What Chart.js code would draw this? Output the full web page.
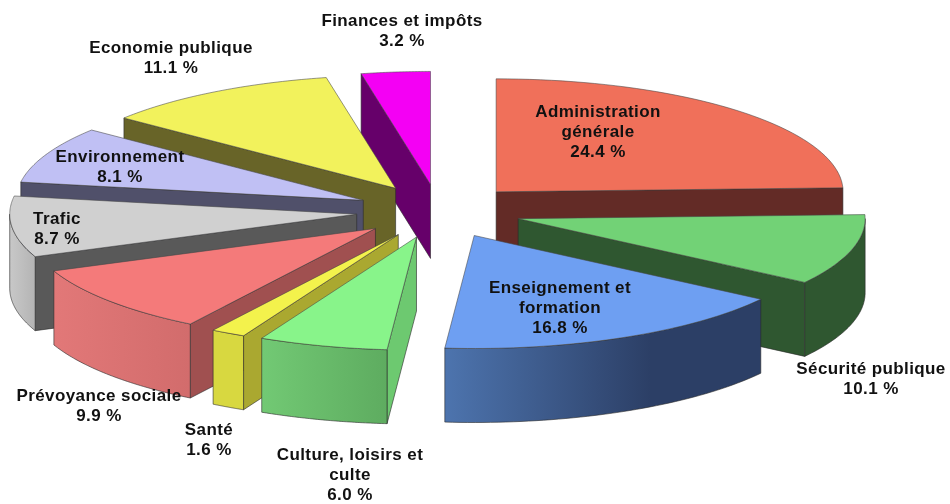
<!DOCTYPE html>
<html>
<head>
<meta charset="utf-8">
<style>html,body{margin:0;padding:0;background:#fff;overflow:hidden}#wrap{width:950px;height:504px;position:relative}</style>
<script src="https://cdn.jsdelivr.net/npm/chart.js@4"></script>
</head>
<body>
<div id="wrap"><canvas id="c" width="950" height="504"></canvas></div>
<script>
// ---- data
const categories = ["Administration générale","Sécurité publique","Enseignement et formation","Culture, loisirs et culte","Santé","Prévoyance sociale","Trafic","Environnement","Economie publique","Finances et impôts"];
const values = [24.4,10.1,16.8,6.0,1.6,9.9,8.7,8.1,11.1,3.2];
const labelLines = [["Administration","générale"],["Sécurité publique"],["Enseignement et","formation"],["Culture, loisirs et","culte"],["Santé"],["Prévoyance sociale"],["Trafic"],["Environnement"],["Economie publique"],["Finances et impôts"]];
// ---- styles
const topColors = ["#F0705A","#72D276","#6E9FF2","#88F48A","#F3F24C","#F47A7A","#D0D0D0","#C0C0F4","#F2F25C","#F400F4"];
const cutColors = ["#632B26","#2F5730","#2C3F66","#6DC970","#AAA830","#A05050","#595959","#50506A","#686428","#66006A"];
const wallFrom  = ["#632B26","#2F5730","#2C3F66","#5EAC60","#D8D840","#D26C6C","#B4B4B4","#50506A","#686428","#66006A"];
const wallTo    = ["#632B26","#2F5730","#4D74AE","#72C974","#D8D840","#E27878","#C8C8C8","#50506A","#686428","#66006A"];
const drawOrder = [9,8,7,6,5,4,3,0,1,2];
const labelPos  = [[598,112],[871,369],[560,288],[350,455],[209,430],[99,396],[57,219],[120,157],[171,48],[402,21]];
const view = {cx:438.8, cy:211.2, rx:347, ry:113, depth:74, explode:0.238, lineH:20};

const pie3d = {
  id:'pie3d',
  beforeDatasetsDraw(chart){
    const ctx = chart.ctx, arcs = chart.getDatasetMeta(0).data;
    const pt = (el,a,ex,dz)=>{
      const h=(el.startAngle+el.endAngle)/2;
      return [view.cx+(Math.cos(a)*ex.r+Math.cos(h)*view.explode)*view.rx,
              view.cy+(Math.sin(a)*ex.r+Math.sin(h)*view.explode)*view.ry+dz];
    };
    const poly=(pts,fill)=>{
      ctx.beginPath();
      pts.forEach((p,i)=>i?ctx.lineTo(p[0],p[1]):ctx.moveTo(p[0],p[1]));
      ctx.closePath();
      ctx.fillStyle=fill;ctx.fill();
      ctx.strokeStyle='rgba(40,40,40,0.75)';ctx.lineWidth=0.8;ctx.stroke();
    };
    drawOrder.forEach(i=>{
      const el=arcs[i], a0=el.startAngle, a1=el.endAngle, d=view.depth;
      const A=pt(el,0,{r:0},0), Ad=[A[0],A[1]+d], mid=pt(el,(a0+a1)/2,{r:0.6},0);
      // cut faces
      [a0,a1].forEach(a=>{
        const P=pt(el,a,{r:1},0);
        const n=[-(P[1]-A[1]),P[0]-A[0]];
        const s=n[0]*(mid[0]-A[0])+n[1]*(mid[1]-A[1]);
        const outY=s>0?-n[1]:n[1];
        if(outY>0) poly([A,P,[P[0],P[1]+d],Ad],cutColors[i]);
      });
      // outer curved wall: the part that faces the viewer
      const f0=Math.max(a0,0), f1=Math.min(a1,Math.PI);
      if(f1>f0){
        const up=[],dn=[];
        for(let k=0;k<=48;k++){
          const a=f0+(f1-f0)*k/48;
          up.push(pt(el,a,{r:1},0));
          dn.unshift(pt(el,a,{r:1},d));
        }
        const xs=up.map(p=>p[0]), x0=Math.min(...xs), x1=Math.max(...xs);
        const g=ctx.createLinearGradient(x0,0,x1,0);
        g.addColorStop(0,wallTo[i]);
        g.addColorStop(i===2?0.65:1,wallFrom[i]);
        if(i===2) g.addColorStop(1,wallFrom[i]);
        poly(up.concat(dn),g);
      }
      // top face, drawn by the library's arc element under a flattening transform
      const R=el.outerRadius, h=(a0+a1)/2;
      ctx.save();
      ctx.translate(view.cx,view.cy);
      ctx.scale(view.rx/R,view.ry/R);
      ctx.translate(Math.cos(h)*view.explode*R-el.x,Math.sin(h)*view.explode*R-el.y);
      el.draw(ctx);
      ctx.restore();
      // thin outline of the top face
      const rim=[A];
      for(let k=0;k<=48;k++) rim.push(pt(el,a0+(a1-a0)*k/48,{r:1},0));
      ctx.beginPath();
      rim.forEach((p,j)=>j?ctx.lineTo(p[0],p[1]):ctx.moveTo(p[0],p[1]));
      ctx.closePath();
      ctx.strokeStyle='rgba(70,70,70,0.7)';ctx.lineWidth=0.8;ctx.stroke();
    });
    return false;
  },
  afterDraw(chart){
    const ctx=chart.ctx;
    ctx.save();
    ctx.font='bold 17px "Liberation Sans", Arial, sans-serif';
    ctx.textAlign='center';ctx.textBaseline='middle';ctx.fillStyle='#111';
    if('letterSpacing' in ctx) ctx.letterSpacing='0.4px';
    categories.forEach((c,i)=>{
      const lines=labelLines[i].concat([values[i].toFixed(1)+' %']);
      lines.forEach((t,j)=>ctx.fillText(t,labelPos[i][0],labelPos[i][1]+j*view.lineH));
    });
    ctx.restore();
  }
};

new Chart(document.getElementById('c'),{
  type:'pie',
  data:{labels:categories,datasets:[{data:values,backgroundColor:topColors,borderWidth:0}]},
  options:{responsive:false,animation:false,plugins:{legend:{display:false},tooltip:{enabled:false}}},
  plugins:[pie3d]
});
</script>
</body>
</html>
